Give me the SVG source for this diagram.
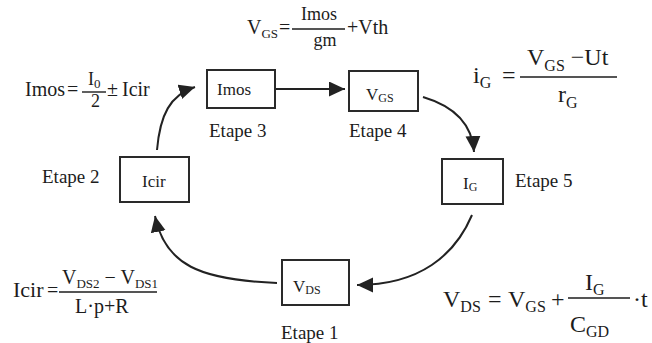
<svg xmlns="http://www.w3.org/2000/svg" width="652" height="343" viewBox="0 0 652 343" font-family="Liberation Serif">
<style>
text{font-family:'Liberation Serif','Times New Roman',serif}
.bg{fill:#ffffff}
.box{fill:#ffffff;stroke:#2a2a2a;stroke-width:2}
.conn{fill:none;stroke:#222222;stroke-width:2}
.t{fill:#1c1c1c}
.lbl{font-size:17px}
.sub{font-size:12px}
.et{font-size:19px}
.eqs{font-size:20px}
.eqb{font-size:24px}
.bar{stroke:#1c1c1c;stroke-width:1.4}
</style>
<defs>
<marker id="ah" markerUnits="userSpaceOnUse" markerWidth="18" markerHeight="16" refX="16" refY="7.5" orient="auto">
<path d="M0,0 L16,7.5 L0,15 Z" fill="#222222"/>
</marker>
</defs>
<rect class="bg" x="0" y="0" width="652" height="343"/>

<g id="connectors">
<path class="conn" d="M157,150 C160,115 170,95 195,87" marker-end="url(#ah)"/>
<path class="conn" d="M275,89 L345,89" marker-end="url(#ah)"/>
<path class="conn" d="M423,97 C450,105 472,120 474,152" marker-end="url(#ah)"/>
<path class="conn" d="M472,215 C455,255 420,285 357,285" marker-end="url(#ah)"/>
<path class="conn" d="M277,283 C200,280 165,265 155,216" marker-end="url(#ah)"/>
</g>

<g id="node-imos">
<rect class="box" x="207" y="70" width="68" height="38"/>
<text class="t lbl" style="font-family:'Liberation Serif',serif" x="217" y="95">Imos</text>
<text class="t et" style="font-family:'Liberation Serif',serif" x="209" y="137">Etape 3</text>
</g>

<g id="node-vgs">
<rect class="box" x="349" y="71" width="69" height="40"/>
<text class="t lbl" style="font-family:'Liberation Serif',serif" x="366" y="100">V<tspan class="sub" dy="2">GS</tspan></text>
<text class="t et" style="font-family:'Liberation Serif',serif" x="349" y="137">Etape 4</text>
</g>

<g id="node-icir">
<rect class="box" x="120" y="157" width="69" height="45"/>
<text class="t lbl" style="font-family:'Liberation Serif',serif" x="142" y="187">Icir</text>
<text class="t et" style="font-family:'Liberation Serif',serif" x="42" y="183">Etape 2</text>
</g>

<g id="node-ig">
<rect class="box" x="442" y="159" width="61" height="45"/>
<text class="t lbl" style="font-family:'Liberation Serif',serif" x="463" y="189">I<tspan class="sub" dy="2">G</tspan></text>
<text class="t et" style="font-family:'Liberation Serif',serif" x="515" y="187">Etape 5</text>
</g>

<g id="node-vds">
<rect class="box" x="282" y="260" width="67" height="45"/>
<text class="t lbl" style="font-family:'Liberation Serif',serif" x="293" y="292">V<tspan class="sub" dy="2">DS</tspan></text>
<text class="t et" style="font-family:'Liberation Serif',serif" x="281" y="339">Etape 1</text>
</g>

<g id="eq-vgs">
<text class="t eqs" style="font-family:'Liberation Serif',serif" x="247" y="34">V<tspan font-size="13" dy="4">GS</tspan></text>
<text class="t eqs" style="font-family:'Liberation Serif',serif" x="279" y="34">=</text>
<line class="bar" x1="292" y1="29" x2="345" y2="29"/>
<text class="t" style="font-family:'Liberation Serif',serif" font-size="18" x="319" y="20" text-anchor="middle">Imos</text>
<text class="t" style="font-family:'Liberation Serif',serif" font-size="18" x="325" y="46" text-anchor="middle">gm</text>
<text class="t eqs" style="font-family:'Liberation Serif',serif" x="347" y="34">+Vth</text>
</g>

<g id="eq-imos">
<text class="t eqs" style="font-family:'Liberation Serif',serif" x="25" y="96">Imos</text>
<text class="t eqs" style="font-family:'Liberation Serif',serif" x="67" y="96">=</text>
<text class="t" style="font-family:'Liberation Serif',serif" font-size="18" x="88" y="85">I<tspan font-size="13" dy="3">0</tspan></text>
<line class="bar" x1="82" y1="92" x2="106" y2="92"/>
<text class="t" style="font-family:'Liberation Serif',serif" font-size="18" x="91" y="107">2</text>
<text class="t eqs" style="font-family:'Liberation Serif',serif" x="107" y="96">±</text>
<text class="t eqs" style="font-family:'Liberation Serif',serif" x="122" y="96">Icir</text>
</g>

<g id="eq-ig">
<text class="t eqb" style="font-family:'Liberation Serif',serif" x="473" y="83">i<tspan font-size="16" dy="5">G</tspan></text>
<text class="t eqb" style="font-family:'Liberation Serif',serif" x="502" y="83">=</text>
<line class="bar" x1="520" y1="77" x2="617" y2="77"/>
<text class="t eqb" style="font-family:'Liberation Serif',serif" x="527" y="65">V<tspan font-size="16" dy="6">GS</tspan><tspan dy="-6"> −Ut</tspan></text>
<text class="t eqb" style="font-family:'Liberation Serif',serif" x="558" y="102">r<tspan font-size="16" dy="6">G</tspan></text>
</g>

<g id="eq-icir">
<text class="t" style="font-family:'Liberation Serif',serif" font-size="22" x="13" y="297">Icir</text>
<text class="t eqs" style="font-family:'Liberation Serif',serif" x="47" y="297">=</text>
<line class="bar" x1="59" y1="292" x2="157" y2="292"/>
<text class="t eqs" style="font-family:'Liberation Serif',serif" x="62" y="284">V<tspan font-size="13" dy="4">DS2</tspan><tspan dy="-4"> − V</tspan><tspan font-size="13" dy="4">DS1</tspan></text>
<text class="t eqs" style="font-family:'Liberation Serif',serif" x="75" y="313">L·p+R</text>
</g>

<g id="eq-vds">
<text class="t eqb" style="font-family:'Liberation Serif',serif" x="443" y="307">V<tspan font-size="16" dy="5">DS</tspan></text>
<text class="t eqb" style="font-family:'Liberation Serif',serif" x="488" y="307">=</text>
<text class="t eqb" style="font-family:'Liberation Serif',serif" x="508" y="307">V<tspan font-size="16" dy="5">GS</tspan></text>
<text class="t eqb" style="font-family:'Liberation Serif',serif" x="551" y="307">+</text>
<line class="bar" x1="568" y1="298" x2="630" y2="298"/>
<text class="t eqb" style="font-family:'Liberation Serif',serif" x="585" y="290">I<tspan font-size="16" dy="5">G</tspan></text>
<text class="t eqb" style="font-family:'Liberation Serif',serif" x="570" y="332">C<tspan font-size="16" dy="5">GD</tspan></text>
<text class="t eqb" style="font-family:'Liberation Serif',serif" x="633" y="307">·t</text>
</g>
</svg>
